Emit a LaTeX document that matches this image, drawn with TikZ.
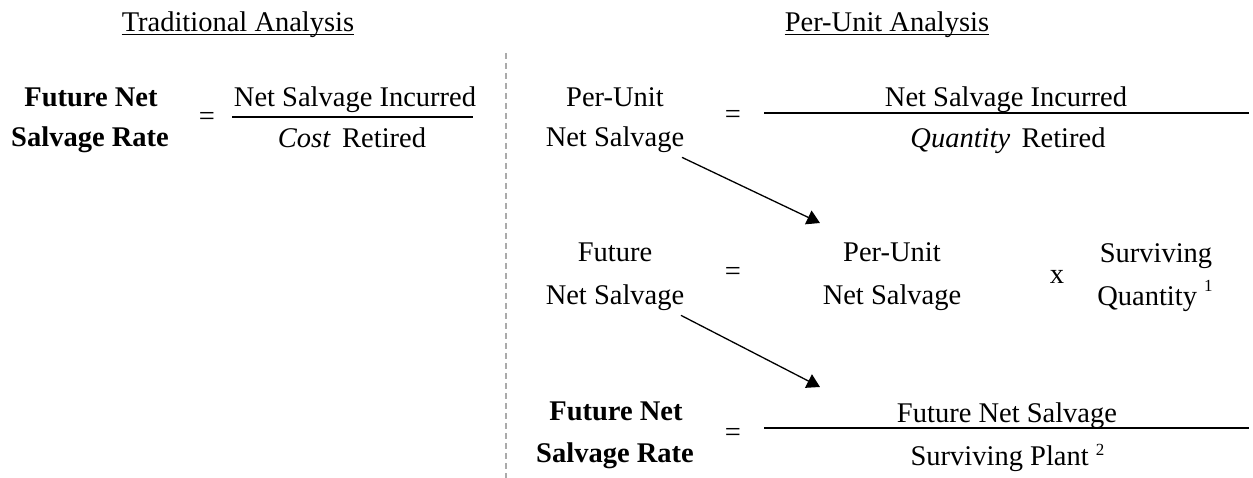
\documentclass[tikz,border=0pt]{standalone}
\usepackage{fontspec}
\setmainfont{Liberation Serif}
\usetikzlibrary{arrows.meta}

\begin{document}
\begin{tikzpicture}[x=1pt,y=-1pt,
  every node/.style={inner sep=0pt,anchor=base,font=\fontsize{28.5pt}{34pt}\selectfont},
  term/.style={},
  bterm/.style={font=\fontsize{28.5pt}{34pt}\selectfont\bfseries},
  fracbar/.style={line width=2pt},
  uline/.style={line width=1.2pt},
  flow/.style={line width=1.3pt,-{Triangle[width=15pt,length=13pt]}},
  divider/.style={line width=1.5pt,color=black!33,dash pattern=on 6pt off 4pt}
]
\useasboundingbox (0,0) rectangle (1253,478);

% column headings
\node (tradhead) at (238,32) {Traditional Analysis};
\node (unithead) at (887,32) {Per-Unit Analysis};
\draw[uline] ([yshift=-2.5pt]tradhead.base west) -- ([yshift=-2.5pt]tradhead.base east);
\draw[uline] ([yshift=-2.5pt]unithead.base west) -- ([yshift=-2.5pt]unithead.base east);

% divider between the two methods
\coordinate (divtop) at (506,53);
\coordinate (divbot) at (506,478);
\draw[divider] (divtop) -- (divbot);

% traditional rate
\node[bterm] (lfn) at (91,107) {Future Net};
\node[bterm] (lsr) at (90,147) {Salvage Rate};
\node (leq) at (207,126) {=};
\draw[fracbar] (232,117) -- (473,117);
\node (lnum) at (355,107) {Net Salvage Incurred};
\node (lden) at (352,148) {\textit{Cost}\hspace{0.4em}Retired};

% per-unit net salvage
\node (pu1) at (615,107) {Per-Unit};
\node (ns1) at (615,147) {Net Salvage};
\node (eq1) at (733,124) {=};
\draw[fracbar] (764,113) -- (1249,113);
\node (num1) at (1006,107) {Net Salvage Incurred};
\node (den1) at (1008,148) {\textit{Quantity}\hspace{0.4em}Retired};

% future net salvage
\node (fu2) at (615,262) {Future};
\node (ns2) at (615,305) {Net Salvage};
\node (eq2) at (733,281) {=};
\node (pu2) at (892,262) {Per-Unit};
\node (ns2b) at (892,305) {Net Salvage};
\node (times) at (1057,284) {x};
\node (sv) at (1156,263) {Surviving};
\node (qt) at (1155,306) {Quantity \raisebox{14pt}{\fontsize{17pt}{20pt}\selectfont 1}};

% future net salvage rate
\node[bterm] (bfn) at (616,420) {Future Net};
\node[bterm] (bsr) at (615,462) {Salvage Rate};
\node (eq3) at (733,441) {=};
\draw[fracbar] (764,428) -- (1249,428);
\node (num2) at (1007,422) {Future Net Salvage};
\node (den2) at (1007.5,465) {Surviving Plant \raisebox{10pt}{\fontsize{17pt}{20pt}\selectfont 2}};

% carry-over arrows
\coordinate (tip1) at (820,223);
\coordinate (tip2) at (820,387);
\draw[flow] ([shift={(-2.5,4)}]ns1.south east) -- (tip1);
\draw[flow] ([shift={(-3.5,4)}]ns2.south east) -- (tip2);
\end{tikzpicture}
\end{document}
